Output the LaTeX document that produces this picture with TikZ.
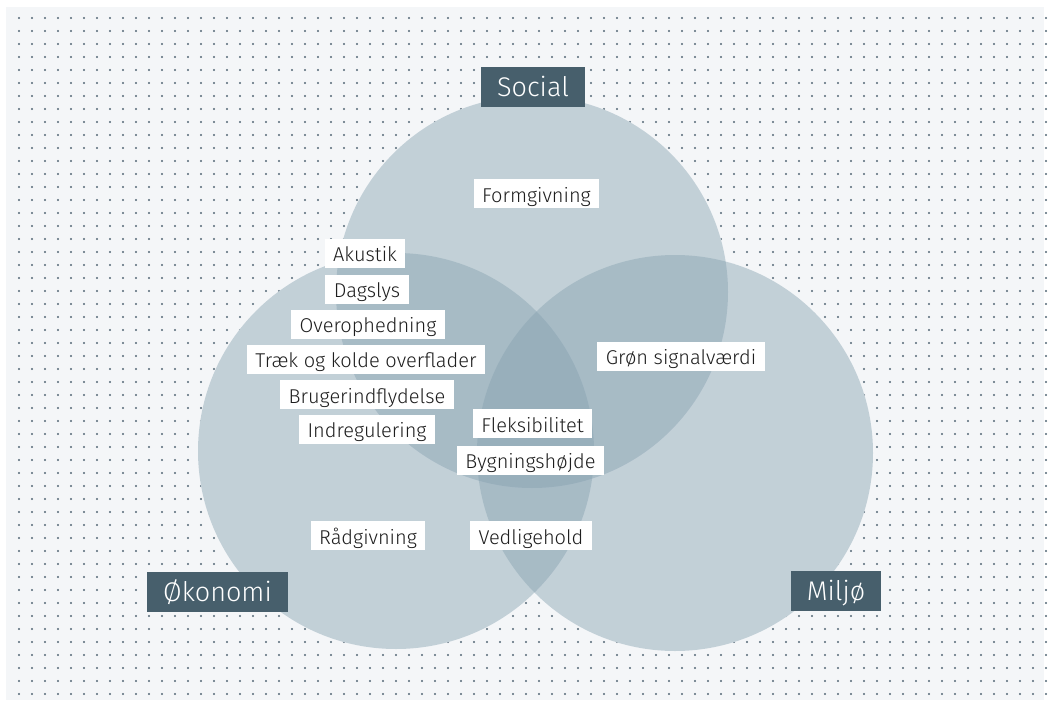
\documentclass[tikz,border=0pt]{standalone}
\usepackage{fontspec}
\setmainfont{Fira Sans Light}
\definecolor{bgc}{RGB}{244,246,248}
\definecolor{dotc}{RGB}{84,104,118}
\definecolor{circc}{RGB}{135,162,177}
\definecolor{headc}{RGB}{71,95,108}
\definecolor{txtc}{RGB}{30,30,30}
\tikzset{
  item/.style={fill=white, text=txtc, font=\fontsize{20}{24}\selectfont, inner xsep=8.5pt, inner ysep=0pt, minimum height=29pt, text depth=6pt, text height=23pt},
  head/.style={fill=headc, text=white, font=\fontsize{27}{32}\selectfont, inner sep=0pt, minimum height=40pt, text height=29.5pt, text depth=10.5pt},
  circ/.style={fill=circc, fill opacity=0.45}
}
\begin{document}
\begin{tikzpicture}[x=1pt,y=-1pt]
\useasboundingbox (0,0) rectangle (1050,707);
\fill[white] (0,0) rectangle (1050,707);
\fill[bgc] (6,7) rectangle (1044,700);
\foreach \i in {0,...,79}{
  \foreach \j in {0,...,52}{
    \fill[dotc] ({19+13*\i},{18+13*\j}) circle (1.1);
  }
}
% circles: cover dots, then translucent fill
\coordinate (cs) at (532,292);
\coordinate (co) at (396,451);
\coordinate (cm) at (675,453);
\fill[bgc] (cs) circle (196);
\fill[bgc] (co) circle (198);
\fill[bgc] (cm) circle (198);
\fill[circ] (cs) circle (196);
\fill[circ] (co) circle (198);
\fill[circ] (cm) circle (198);
% headers
\node[head, minimum width=104pt] (social) at (533,87) {Social};
\node[head, minimum width=141pt] (okonomi) at (217.5,592) {Økonomi};
\node[head, minimum width=90pt] (miljo) at (836,591) {Miljø};
% items
\node[item] (formgivning) at (536.5,193.5) {Formgivning};
\node[item] (akustik) at (365,253) {Akustik};
\node[item] (dagslys) at (367,289) {Dagslys};
\node[item] (overophedning) at (368,324) {Overophedning};
\node[item] (traek) at (366,359) {Træk og kolde overflader};
\node[item] (bruger) at (367,394.5) {Brugerindflydelse};
\node[item] (indreg) at (367,429) {Indregulering};
\node[item] (fleks) at (532.5,423.5) {Fleksibilitet};
\node[item] (bygning) at (530.5,460) {Bygningshøjde};
\node[item] (vedlige) at (531,535.5) {Vedligehold};
\node[item] (gron) at (681,356) {Grøn signalværdi};
\node[item] (radgiv) at (368,535.5) {Rådgivning};
\end{tikzpicture}
\end{document}
